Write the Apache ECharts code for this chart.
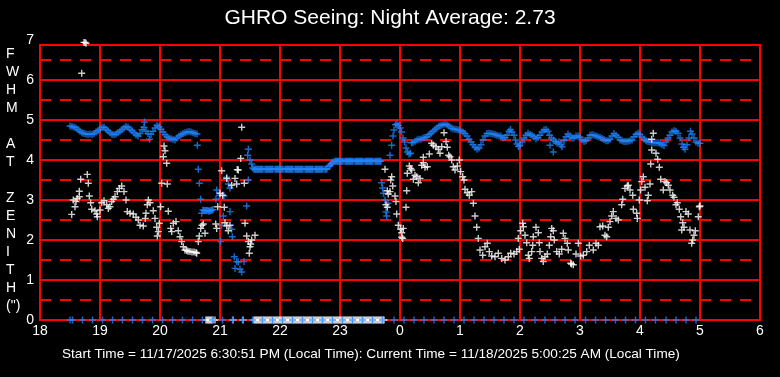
<!DOCTYPE html>
<html>
<head>
<meta charset="utf-8">
<title>GHRO Seeing</title>
<script src="https://cdn.jsdelivr.net/npm/echarts@6.0.0/dist/echarts.min.js"></script>
<style>
  html, body { margin: 0; padding: 0; background: #000; }
  #chart { width: 780px; height: 377px; }
</style>
</head>
<body>
<div id="chart"></div>
<script>
// x values are minutes after 18:00 local time, y values are FWHM in arcsec
const hourLabels = ['18', '19', '20', '21', '22', '23', '0', '1', '2', '3', '4', '5', '6'];
const fwhmLabels = ['0', '1', '2', '3', '4', '5', '6', '7'];

// white + : measured seeing
const whiteSeeing = [
  [31.7, 2.64], [33.3, 3.0], [35, 2.83], [36, 2.96], [37.3, 3.04], [39.3, 3.22], [39.3, 3.08], [40.7, 3.52],
  [41.7, 6.17], [44, 6.94], [45, 6.94], [46, 6.92],
  [47.3, 3.64], [48.3, 3.42], [49.3, 3.1], [50.7, 2.93], [51.7, 2.77], [55, 2.73], [56.7, 2.65], [57.3, 2.58],
  [60, 2.75], [61.7, 2.93], [64, 2.98], [66.7, 2.88], [68.3, 2.79], [70, 2.83], [71.7, 2.96], [73.3, 3.02],
  [75, 3.08], [77.3, 3.21], [79.3, 3.29], [81.7, 3.35], [84, 3.21], [86, 3.0],
  [87.3, 2.71], [90, 2.67], [93.3, 2.65], [96, 2.57], [98.3, 2.5], [100, 2.37], [103.3, 2.35],
  [105.3, 2.54], [106, 2.67], [107.3, 2.88], [108.3, 3.0], [110, 2.93],
  [113.3, 2.73], [115, 2.54], [116.7, 2.32], [117.3, 2.1], [118.3, 2.21], [119.3, 2.42], [120.7, 2.83],
  [121.7, 3.42], [127.3, 3.4], [123.3, 4.08], [124, 4.35], [125, 4.23], [126.7, 3.92], [128.3, 2.72],
  [130.7, 2.29], [131.7, 2.21], [133.3, 2.42], [136, 2.46], [138.3, 2.23], [140, 2.08], [141.7, 1.96],
  [143.3, 1.83], [145, 1.75], [146.7, 1.74], [148, 1.72], [150, 1.71], [152, 1.7], [154, 1.7], [156, 1.69], [156.7, 1.67],
  [158.3, 1.96], [159.3, 2.1], [160.7, 2.29], [162, 2.37], [163.3, 2.4], [165, 2.17],
  [175.7, 2.4], [176.7, 2.29], [177.7, 2.83], [180, 3.17], [182.7, 3.12], [184.3, 2.82], [181.7, 3.73],
  [185, 2.43], [186.7, 2.35], [188.3, 2.23], [190, 2.37],
  [186.7, 3.54], [191.7, 3.37], [195, 3.54], [196.7, 3.4], [204.3, 3.42], [197.3, 3.76], [198.3, 3.75],
  [200.7, 4.04], [201.7, 4.82], [205, 2.42],
  [206.7, 2.1], [208.3, 1.96], [209.3, 1.67], [210, 1.83], [210.7, 1.9], [211.7, 2.0], [215, 2.12],
  [345, 3.77], [346, 2.88], [347.3, 2.82], [347.3, 3.23], [348.3, 3.15], [350, 3.21], [350.7, 3.5], [351.7, 3.58],
  [352.7, 3.35], [355, 3.1], [356, 2.96], [356.7, 2.65], [358.3, 2.37], [360.7, 2.27], [361.7, 2.18],
  [361.7, 2.07], [362.7, 2.04], [363.3, 2.29], [366, 2.82], [366.7, 3.23],
  [367.3, 3.67], [369.3, 3.85], [370.7, 3.79], [371.7, 3.75], [373.3, 3.52], [375, 3.62], [376.7, 3.58],
  [378.3, 3.43], [380, 3.54], [381.7, 3.87], [383.3, 4.07], [383.3, 3.93], [385, 3.82], [387.3, 3.83], [389.3, 4.15],
  [391.7, 4.42], [393.3, 4.37], [396, 4.33], [398.3, 4.27], [400, 4.17], [401.7, 4.33], [404, 4.68],
  [406, 4.46], [407.3, 4.32], [408.7, 4.12], [410, 4.08], [411.7, 4.0], [413.3, 3.83], [415, 3.75],
  [417.3, 3.85], [419.3, 4.0], [420.7, 3.71], [422.7, 3.58], [424, 3.5], [425, 3.27], [427.3, 3.18],
  [429.3, 3.12], [431.7, 3.21], [433.3, 2.92], [435, 2.6], [436.7, 2.32], [438.3, 2.04], [440, 1.75],
  [442.7, 1.62], [445, 1.83], [447.3, 1.92], [449.3, 1.71], [451.7, 1.6], [455, 1.58], [458.3, 1.67],
  [461.7, 1.54], [465, 1.5], [468.3, 1.58], [470.7, 1.67], [474, 1.65], [476.7, 1.71], [479.3, 1.77],
  [478.3, 2.04], [480.7, 2.23], [482.7, 2.42], [483.3, 2.33], [485, 2.12],
  [486.7, 1.93], [488.3, 1.62], [489.3, 1.54], [491.7, 1.71], [492.7, 1.87], [493.3, 2.08], [496, 2.32],
  [498.3, 2.18], [499.3, 1.93], [500, 1.71], [501.7, 1.54], [503.3, 1.46], [505, 1.58], [507.3, 1.65],
  [509.3, 1.87], [510.7, 2.08], [511.7, 2.29], [513.3, 2.23], [514.3, 2.0], [516.7, 1.71], [519.3, 1.65],
  [521.7, 1.77], [523.3, 2.17], [525, 2.04], [527.3, 1.92], [528.3, 1.75], [530.7, 1.42], [531.5, 1.4], [533.3, 1.38],
  [536, 1.65], [538.3, 1.92], [540.7, 1.6], [543.3, 1.62], [546.7, 1.71], [549.3, 1.87], [553.3, 1.75],
  [556, 1.92], [558.3, 1.87], [560, 2.33], [562.7, 2.35], [565, 2.12], [566.7, 2.08], [568.3, 2.32],
  [570, 2.46], [571.7, 2.6], [573.3, 2.71], [576, 2.54], [578.3, 2.5], [581.7, 2.88], [582.7, 3.02],
  [585, 3.29], [587.3, 3.35], [588.3, 3.37], [590, 3.25], [592.7, 3.12], [593.3, 2.77], [596.7, 2.67], [597.3, 2.54],
  [599.3, 3.0], [600.7, 3.25], [601.7, 3.46], [603.3, 3.58], [605, 3.32], [607.3, 2.98], [608.3, 3.12],
  [610, 3.4], [610.7, 3.9], [611.7, 4.25], [613.3, 4.67], [611.7, 4.52], [616, 4.17], [617.7, 4.02], [619.3, 3.82],
  [620.7, 3.52], [623.3, 3.25], [625, 3.46], [626.7, 3.43], [628.3, 3.37], [630, 3.25], [632.7, 3.12],
  [634, 3.07], [636, 2.88], [637.3, 2.93], [639.3, 2.77], [640.7, 2.58], [642.7, 2.43], [641.7, 2.25],
  [644, 2.32], [646, 2.71], [648.3, 2.65], [650, 2.25], [651.7, 1.92], [652.7, 2.0], [654, 2.12],
  [655.3, 2.23], [658.3, 2.58], [659.3, 2.83], [660, 2.85]
];

// blue + : second seeing channel
const blueSeeing = [
  [30, 4.85], [32, 4.84], [34, 4.82], [36, 4.8], [38, 4.76], [40, 4.72], [42, 4.68], [44, 4.66], [46, 4.65],
  [48, 4.64], [50, 4.65], [52, 4.64], [54, 4.66], [56, 4.7], [58, 4.73], [60, 4.77], [62, 4.82], [64, 4.82],
  [66, 4.77], [68, 4.73], [70, 4.68], [72, 4.64], [74, 4.63], [76, 4.65], [78, 4.69], [80, 4.72], [82, 4.76],
  [84, 4.8], [86, 4.84], [88, 4.82], [90, 4.77], [92, 4.73], [94, 4.68], [96, 4.63], [98, 4.6], [100, 4.66],
  [102, 4.76], [104, 4.82], [104.5, 4.95], [106, 4.72], [108, 4.66], [109.5, 4.52], [111, 4.64], [113, 4.72],
  [115, 4.8], [117, 4.87], [119, 4.83], [121, 4.77], [123, 4.7], [125, 4.63], [127, 4.58], [129, 4.55],
  [131, 4.53], [133, 4.52], [135, 4.5], [137, 4.55], [139, 4.6], [141, 4.63], [143, 4.66], [145, 4.68],
  [147, 4.7], [149, 4.71], [151, 4.7], [153, 4.68], [155, 4.66], [157, 4.65],
  [157.3, 4.37], [158.3, 3.77], [159.3, 3.42], [160.7, 3.02], [161.7, 2.67],
  [163, 2.75], [164, 2.74], [165, 2.73], [166, 2.74], [167, 2.74], [168, 2.73], [169, 2.72], [170, 2.73],
  [171, 2.74], [172, 2.75], [173, 2.76],
  [176.7, 3.25], [176, 3.02], [179.3, 3.12], [184, 3.1], [186.7, 3.57], [188.3, 3.4], [190, 3.3],
  [183.3, 2.6], [181.7, 2.37], [190, 2.71], [191.7, 2.27], [192.3, 2.08], [180.7, 1.96],
  [194.3, 1.58], [195, 1.29], [196.7, 1.46], [198.3, 1.45], [200, 1.27], [201.7, 1.2], [204, 1.46],
  [206.7, 2.85], [208.3, 3.5], [208.3, 4.27], [207.7, 4.12], [210, 4.0], [211.7, 3.9], [212.7, 3.8], [214, 3.77],
  [215, 3.77], [216, 3.77], [217, 3.77], [218, 3.77], [219, 3.77], [220, 3.77], [221, 3.77], [222, 3.77],
  [223, 3.77], [225, 3.77], [226, 3.77], [227, 3.77], [228, 3.77], [229, 3.77], [230, 3.77], [231, 3.77],
  [232, 3.77], [233, 3.77], [235, 3.77], [236, 3.77], [237, 3.77], [238, 3.77], [239, 3.77], [240, 3.77],
  [241, 3.77], [242, 3.77], [243, 3.77], [245, 3.77], [246, 3.77], [247, 3.77], [248, 3.77], [249, 3.77],
  [250, 3.77], [251, 3.77], [252, 3.77], [253, 3.77], [255, 3.77], [256, 3.77], [257, 3.77], [258, 3.77],
  [259, 3.77], [260, 3.77], [261, 3.77], [262, 3.77], [263, 3.77], [265, 3.77], [266, 3.77], [267, 3.77],
  [268, 3.77], [269, 3.77], [270, 3.77], [271, 3.77], [272, 3.77], [273, 3.77], [275, 3.77], [276, 3.77],
  [277, 3.77], [278, 3.77], [279, 3.77], [280, 3.77], [281, 3.77], [282, 3.77], [283, 3.77], [285, 3.77],
  [286, 3.77], [287, 3.78],
  [289, 3.84], [290, 3.87], [291, 3.9], [292, 3.92], [293, 3.95], [295, 3.97],
  [296, 3.97], [297, 3.97], [298, 3.97], [299, 3.97], [300, 3.97], [301, 3.97], [302, 3.97], [303, 3.97],
  [305, 3.97], [306, 3.97], [307, 3.97], [308, 3.97], [309, 3.97], [310, 3.97], [311, 3.97], [312, 3.97],
  [313, 3.97], [315, 3.97], [316, 3.97], [317, 3.97], [318, 3.97], [319, 3.97], [320, 3.97], [321, 3.97],
  [322, 3.97], [323, 3.97], [325, 3.97], [326, 3.97], [327, 3.97], [328, 3.97], [329, 3.97], [330, 3.97],
  [331, 3.97], [332, 3.97], [333, 3.97], [335, 3.97], [336, 3.97], [337, 3.97], [338, 3.97], [339, 3.97],
  [340, 3.97], [341, 3.97],
  [341.7, 3.43], [342.5, 3.3], [343.5, 3.17], [345, 3.0], [346, 2.7], [346.7, 2.6], [348, 2.92],
  [350, 4.12], [351.7, 4.37], [353, 4.6], [354, 4.75], [355.5, 4.88], [357, 4.9], [358.5, 4.86], [360, 4.8],
  [361.5, 4.7], [363, 4.55], [364.5, 4.45], [366, 4.3], [367.5, 4.2], [369, 4.15], [370.5, 4.17],
  [371.5, 4.43], [373, 4.44], [375, 4.47], [377, 4.5], [379, 4.52], [381, 4.52], [383, 4.55], [385, 4.56],
  [387, 4.58], [389, 4.63], [391, 4.67], [393, 4.72], [395, 4.76], [397, 4.8], [399, 4.85], [401, 4.87],
  [403, 4.88], [405, 4.9], [407, 4.88], [409, 4.85], [411, 4.8], [413, 4.78], [415, 4.77], [417, 4.76],
  [419, 4.75], [421, 4.73], [423, 4.7], [425, 4.66], [427, 4.6], [429, 4.52], [431, 4.45], [433, 4.38],
  [435, 4.32], [437, 4.27], [439, 4.3], [441, 4.38], [443, 4.5], [445, 4.6], [447, 4.66], [449, 4.67],
  [451, 4.66], [453, 4.65], [455, 4.64], [457, 4.62], [459, 4.6], [461, 4.6], [463, 4.55], [465, 4.56],
  [467, 4.62], [469, 4.72], [470.5, 4.76], [472, 4.7], [474, 4.62], [475.5, 4.5], [477, 4.4], [478.5, 4.34],
  [480, 4.36], [482, 4.45], [484, 4.55], [486, 4.62], [488, 4.67], [490, 4.64], [492, 4.62], [494, 4.58],
  [496, 4.53], [498, 4.56], [500, 4.62], [502, 4.7], [504, 4.75], [506, 4.76], [508, 4.72], [509.5, 4.62],
  [510, 4.37], [513.3, 4.2], [511.5, 4.55], [513.5, 4.5], [515.5, 4.46], [517, 4.42], [519, 4.45],
  [521, 4.38], [522, 4.33], [524, 4.48], [526, 4.58], [528, 4.65], [530, 4.6], [532, 4.55], [534, 4.55],
  [536, 4.6], [538, 4.6], [540, 4.57], [542, 4.5], [544, 4.46], [546, 4.48], [548, 4.55], [550, 4.62],
  [552, 4.63], [554, 4.62], [556, 4.6], [558, 4.58], [560, 4.56], [562, 4.54], [564, 4.51], [566, 4.48],
  [568, 4.48], [570, 4.52], [572, 4.6], [574, 4.66], [576, 4.62], [578, 4.57], [580, 4.5], [582, 4.48],
  [584, 4.46], [586, 4.46], [588, 4.47], [590, 4.48], [592, 4.5], [594, 4.58], [596, 4.64], [598, 4.67],
  [600, 4.64], [602, 4.57], [604, 4.52], [606, 4.48], [608, 4.46], [610, 4.45], [612, 4.44], [614, 4.43],
  [616, 4.43], [618, 4.43], [620, 4.42], [622, 4.38], [624, 4.36], [626, 4.45], [628, 4.55], [630, 4.62],
  [632, 4.7], [634, 4.73], [636, 4.72], [638, 4.67], [640, 4.55], [642, 4.4], [643.5, 4.32], [645, 4.27],
  [647, 4.38], [649, 4.55], [650.5, 4.72], [652, 4.65], [654, 4.55], [656, 4.45], [658, 4.42], [660, 4.42]
];

// samples logged with no seeing value (plotted on the zero line)
const whiteZeroTimes = [
  166, 167, 168, 169, 170, 171, 172, 173, 175, 193, 203,
  214, 215, 216, 217, 218, 219, 220, 221, 222, 223, 224, 225, 226, 227, 228, 229, 230, 231, 232, 233,
  234, 235, 236, 237, 238, 239, 240, 241, 242, 243, 244, 245, 246, 247, 248, 249, 250, 251, 252, 253,
  254, 255, 256, 257, 258, 259, 260, 261, 262, 263, 264, 265, 266, 267, 268, 269, 270, 271, 272, 273,
  274, 275, 276, 277, 278, 279, 280, 281, 282, 283, 284, 285, 286, 287, 288, 289, 290, 291, 292, 293,
  294, 295, 296, 297, 298, 299, 300, 301, 302, 303, 304, 305, 306, 307, 308, 309, 310, 311, 312, 313,
  314, 315, 316, 317, 318, 319, 320, 321, 322, 323, 324, 325, 326, 327, 328, 329, 330, 331, 332, 333,
  334, 335, 336, 337, 338, 339, 340, 341, 342, 343, 344
];
const blueZeroTimes = [
  30, 32.5, 42.5, 52.5, 62.5, 72.5, 82.5, 92.5, 102.5, 112.5, 122.5, 132.5, 142.5, 152.5, 162.5, 172.5,
  182.5, 192.5, 202.5, 212.5, 222.5, 232.5, 242.5, 252.5, 262.5, 272.5, 282.5, 292.5, 302.5, 312.5, 322.5,
  332.5, 342.5, 354, 364, 374, 384, 394, 404, 414, 424, 434, 444, 454, 464, 474, 484, 495, 505, 515, 525,
  535, 545.5, 555.5, 565.5, 575.5, 585.5, 595.5, 605.5, 615.5, 626, 636, 646, 656
];

// plus marker with slightly heavy arms so it stays bright after anti-aliasing
const plus = 'path://M2.8,0H4.2V2.8H7V4.2H4.2V7H2.8V4.2H0V2.8H2.8Z';
const red = '#ff0000';
const blue = '#1e84ff';
const font = 'Liberation Sans, Arial, sans-serif';

let myChart = echarts.init(document.getElementById('chart'));

function plusSeries(data, color) {
  return {
    type: 'scatter',
    xAxisIndex: 0,
    yAxisIndex: 0,
    data: data,
    symbol: plus,
    symbolSize: 7,
    itemStyle: { color: color },
    clip: false,
    silent: true,
  };
}

myChart.setOption({
  animation: false,
  backgroundColor: '#000',
  title: [
    {
      text: 'GHRO Seeing: Night Average: 2.73',
      left: 'center',
      top: 8,
      padding: 0,
      textStyle: { color: '#fff', fontSize: 21, fontWeight: 'normal', fontFamily: font },
    },
    {
      text: 'Start Time = 11/17/2025 6:30:51 PM (Local Time): Current Time = 11/18/2025 5:00:25 AM (Local Time)',
      left: 62,
      top: 347,
      padding: 0,
      textStyle: { color: '#fff', fontSize: 13.6, fontWeight: 'normal', fontFamily: font },
    },
    {
      // y axis name, one letter per line
      text: 'F\nW\nH\nM\n\nA\nT\n\nZ\nE\nN\nI\nT\nH\n(")',
      left: 6,
      top: 45,
      padding: 0,
      textStyle: { color: '#fff', fontSize: 14, fontWeight: 'normal', fontFamily: font, lineHeight: 18 },
    },
  ],
  grid: [
    // plot box
    { left: 40, right: 20, top: 45, bottom: 57, show: true, borderColor: red, borderWidth: 2, backgroundColor: '#000' },
    // label scale, 0..7
    { left: 40, right: 20, top: 40, bottom: 57 },
  ],
  xAxis: [
    {
      type: 'value',
      gridIndex: 0,
      min: 0,
      max: 720,
      interval: 60,
      axisLine: { show: false },
      axisTick: { show: false },
      axisLabel: {
        color: '#fff',
        fontSize: 14,
        fontFamily: font,
        margin: 4,
        formatter: (v) => hourLabels[Math.round(v / 60)],
      },
      splitLine: { show: true, lineStyle: { color: red, width: 2 } },
    },
    { type: 'value', gridIndex: 1, min: 0, max: 720, show: false },
  ],
  yAxis: [
    {
      // dashed half-unit lines
      type: 'value',
      gridIndex: 0,
      min: 0,
      max: 6.875,
      interval: 0.5,
      axisLine: { show: false },
      axisTick: { show: false },
      axisLabel: { show: false },
      splitLine: { show: true, lineStyle: { color: red, width: 2, type: [11, 9] } },
    },
    {
      // solid unit lines
      type: 'value',
      gridIndex: 0,
      min: 0,
      max: 6.875,
      interval: 1,
      axisLine: { show: false },
      axisTick: { show: false },
      axisLabel: { show: false },
      splitLine: { show: true, lineStyle: { color: red, width: 2 } },
    },
    {
      // tick labels 0..7
      type: 'value',
      gridIndex: 1,
      min: 0,
      max: 7,
      interval: 1,
      axisLine: { show: false },
      axisTick: { show: false },
      splitLine: { show: false },
      axisLabel: {
        color: '#fff',
        fontSize: 14,
        fontFamily: font,
        margin: 6,
        formatter: (v) => fwhmLabels[Math.round(v)],
      },
    },
  ],
  series: [
    plusSeries(whiteZeroTimes.map((t) => [t, 0]), '#fff'),
    plusSeries(blueSeeing, blue),
    plusSeries(whiteSeeing, '#fff'),
    plusSeries(blueZeroTimes.map((t) => [t, 0]), blue),
  ],
});

window.addEventListener('resize', () => {
  myChart.resize();
});
</script>
</body>
</html>
